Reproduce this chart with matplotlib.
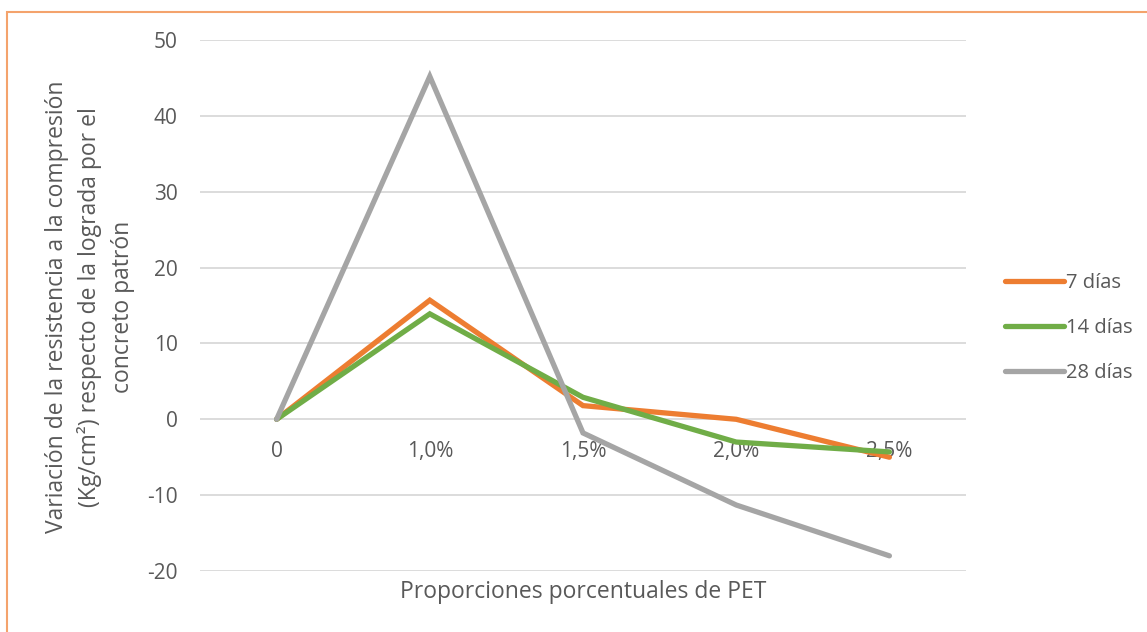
import matplotlib.pyplot as plt
from matplotlib.patches import Rectangle

categories = ["0", "1,0%", "1,5%", "2,0%", "2,5%"]
series_names = ["7 días", "14 días", "28 días"]
dias_7 = [0, 15.7, 1.8, 0.0, -5.0]
dias_14 = [0, 13.9, 2.9, -3.0, -4.3]
dias_28 = [0, 45.2, -1.8, -11.3, -18.0]
y_ticks = [-20, -10, 0, 10, 20, 30, 40, 50]
y_title_lines = ["Variación de la resistencia a la compresión",
                 "(Kg/cm²) respecto de la lograda por el",
                 "concreto patrón"]

colors = ["#ED7D31", "#70AD47", "#A5A5A5"]
text_color = "#595959"
plt.rcParams["font.family"] = ["Open Sans", "DejaVu Sans"]

W, H = 1147, 632
fig = plt.figure(figsize=(W / 100, H / 100), dpi=100)
fig.patch.set_facecolor("white")

# plot area in pixel units
left, right, top, bottom = 200, 966, 40, 571
ax = fig.add_axes([left / W, (H - bottom) / H, (right - left) / W, (bottom - top) / H])

x = list(range(len(categories)))
for vals, name, c in zip([dias_7, dias_14, dias_28], series_names, colors):
    ax.plot(x, vals, color=c, lw=3.8, label=name, solid_capstyle="round",
            solid_joinstyle="miter", clip_on=False, zorder=3)

ax.set_xlim(-0.5, len(categories) - 0.5)
ax.set_ylim(-20, 50)
ax.set_yticks(y_ticks)
ax.set_yticklabels([str(v) for v in y_ticks])
ax.grid(axis="y", color="#D9D9D9", lw=1.3, zorder=0)
ax.set_axisbelow(True)

for s in ["top", "right", "left"]:
    ax.spines[s].set_visible(False)
ax.spines["bottom"].set_position(("data", 0))
ax.spines["bottom"].set_visible(False)

ax.set_xticks(x)
ax.set_xticklabels(categories)
ax.tick_params(axis="x", length=0, pad=15.5, labelsize=15, labelcolor=text_color)
ax.tick_params(axis="y", length=0, pad=16, labelsize=15, labelcolor=text_color)

fig.text((left + right) / 2 / W, 1 - 592 / H, "Proporciones porcentuales de PET",
         ha="center", va="center", fontsize=16.5, color=text_color)

# vertical axis title, one centred column per line
for i, line in enumerate(y_title_lines):
    fig.text((57 + 33 * i) / W, 1 - 307 / H, line, ha="center", va="center",
             rotation=90, fontsize=16.5, color=text_color)

leg = fig.legend(loc="upper left", bbox_to_anchor=(987 / W, 1 - 255 / H), frameon=False,
                 fontsize=14.5, handlelength=2.9, handletextpad=0.1, labelspacing=1.25,
                 labelcolor=text_color)

fig.patches.append(Rectangle((7.5 / W, -0.1), 1.2, (H - 11.5) / H + 0.1,
                             transform=fig.transFigure, fill=False,
                             edgecolor="#F4A36C", lw=1.5))

fig.savefig("out.png", dpi=100)
